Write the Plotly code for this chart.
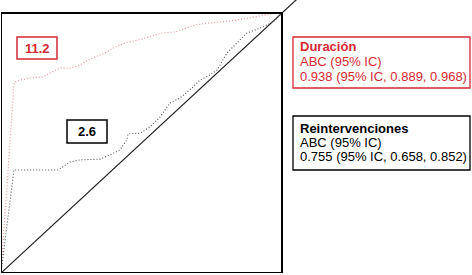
import plotly.graph_objects as go

# ROC curve: Duración
fpr_duracion = [0.0, 0.046, 0.050, 0.068, 0.103, 0.149, 0.174, 0.210, 0.246, 0.281, 0.317,
                0.352, 0.370, 0.406, 0.441, 0.488, 0.523, 0.573, 0.619, 0.655, 0.690,
                0.744, 0.815, 0.886, 0.957, 1.0]
tpr_duracion = [0.0, 0.723, 0.735, 0.742, 0.750, 0.754, 0.769, 0.788, 0.788, 0.800, 0.823,
                0.838, 0.846, 0.869, 0.885, 0.896, 0.908, 0.923, 0.927, 0.942, 0.954,
                0.962, 0.969, 0.981, 0.996, 1.0]

# ROC curve: Reintervenciones
fpr_reint = [0.0, 0.046, 0.203, 0.246, 0.281, 0.352, 0.388, 0.423, 0.448, 0.452, 0.495,
             0.530, 0.566, 0.601, 0.637, 0.683, 0.708, 0.744, 0.769, 0.804, 0.840,
             0.875, 0.922, 0.968, 1.0]
tpr_reint = [0.0, 0.396, 0.396, 0.427, 0.435, 0.438, 0.454, 0.473, 0.512, 0.535, 0.538,
             0.562, 0.600, 0.654, 0.673, 0.715, 0.742, 0.762, 0.781, 0.846, 0.885,
             0.923, 0.942, 0.965, 1.0]

diag_x = [0.0, 1.08]
diag_y = [0.0, 1.08]

label_duracion = "11.2"
label_reint = "2.6"
legend_duracion = ["<b>Duración</b>", "ABC (95% IC)", "0.938 (95% IC, 0.889, 0.968)"]
legend_reint = ["<b>Reintervenciones</b>", "ABC (95% IC)", "0.755 (95% IC, 0.658, 0.852)"]

RED = "#d42a36"
W, H = 472, 275
L, B = 1, 2
XU, YU = 281.0, 260.0  # pixels per data unit


def px2x(px):
    return (px - L) / XU


def py2y(py):
    return (H - B - py) / YU


fig = go.Figure()
fig.add_trace(go.Scatter(x=diag_x, y=diag_y, mode="lines",
                         line=dict(color="#222222", width=1.2), hoverinfo="skip"))
fig.add_trace(go.Scatter(x=fpr_duracion, y=tpr_duracion, mode="lines",
                         line=dict(color="#e89aa0", width=1.2, dash="1px,2px"), hoverinfo="skip"))
fig.add_trace(go.Scatter(x=fpr_reint, y=tpr_reint, mode="lines",
                         line=dict(color="#555555", width=1.1, dash="1px,2px"), hoverinfo="skip"))

shapes = [
    dict(type="rect", xref="x", yref="y", x0=0, y0=0, x1=1, y1=1,
         line=dict(color="black", width=2)),
    dict(type="rect", xref="x", yref="y", x0=px2x(17), x1=px2x(57), y0=py2y(59), y1=py2y(37),
         line=dict(color=RED, width=1.5)),
    dict(type="rect", xref="x", yref="y", x0=px2x(67), x1=px2x(107), y0=py2y(143), y1=py2y(120),
         line=dict(color="black", width=1.5)),
    dict(type="rect", xref="x", yref="y", x0=px2x(293), x1=px2x(470), y0=py2y(88), y1=py2y(37),
         line=dict(color=RED, width=1.3)),
    dict(type="rect", xref="x", yref="y", x0=px2x(293), x1=px2x(470), y0=py2y(170), y1=py2y(116),
         line=dict(color="black", width=1.3)),
]

FONT = "Liberation Sans, Arial, sans-serif"
ann = [
    dict(x=px2x(37), y=py2y(48), text="<b>%s</b>" % label_duracion, showarrow=False,
         font=dict(family=FONT, size=13, color=RED), xanchor="center", yanchor="middle"),
    dict(x=px2x(87), y=py2y(131.5), text="<b>%s</b>" % label_reint, showarrow=False,
         font=dict(family=FONT, size=13, color="black"), xanchor="center", yanchor="middle"),
]
for i, t in enumerate(legend_duracion):
    ann.append(dict(x=px2x(298), y=py2y(46 + i * 15), text=t, showarrow=False,
                    font=dict(family=FONT, size=13, color=RED), xanchor="left", yanchor="middle"))
for i, t in enumerate(legend_reint):
    ann.append(dict(x=px2x(298), y=py2y(128 + i * 14), text=t, showarrow=False,
                    font=dict(family=FONT, size=13, color="black"), xanchor="left", yanchor="middle"))

fig.update_layout(
    width=W, height=H,
    margin=dict(l=L, r=0, t=0, b=B, pad=0, autoexpand=False),
    paper_bgcolor="white", plot_bgcolor="white",
    showlegend=False,
    shapes=shapes, annotations=ann,
    xaxis=dict(range=[0, (W - L) / XU], visible=False, fixedrange=True),
    yaxis=dict(range=[0, (H - B) / YU], visible=False, fixedrange=True),
)
fig.write_html("out.html", config={"displayModeBar": False},
               post_script="document.body.style.margin='0';document.body.style.overflow='hidden';")
